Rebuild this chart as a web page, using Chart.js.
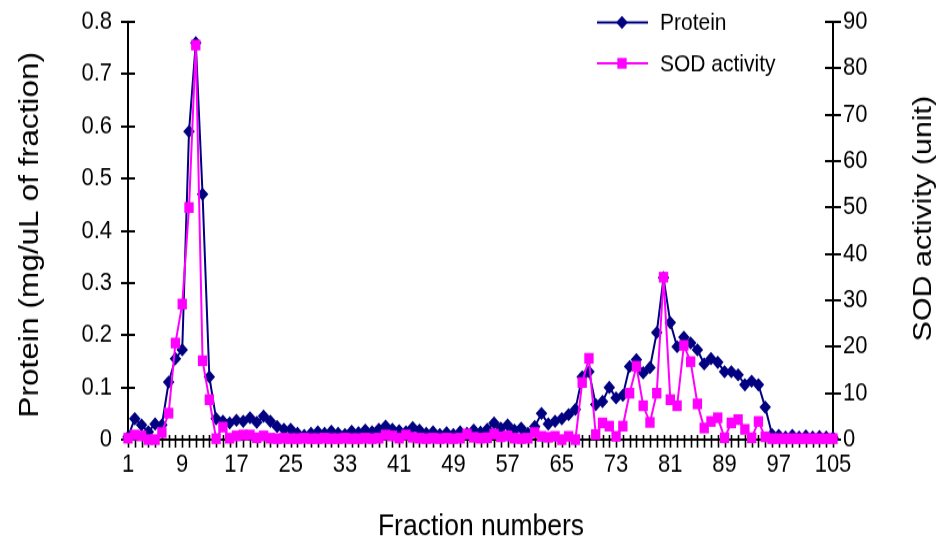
<!DOCTYPE html>
<html>
<head>
<meta charset="utf-8">
<script src="https://cdn.jsdelivr.net/npm/chart.js@4/dist/chart.umd.min.js"></script>
<style>
  html { margin: 0; padding: 0; background: #fff; overflow: hidden; }
  body { margin: 0; padding: 0; background: #fff; width: 946px; height: 542px; }
  /* chart is drawn on a shorter canvas and stretched vertically */
  #wrap { width: 946px; height: 471px; transform: scale(1, 1.15074); transform-origin: 0 0; }
  canvas { display: block; }
</style>
</head>
<body>
<div id="wrap"><canvas id="c" width="946" height="471"></canvas></div>
<script>
// Fraction numbers 1..105
const fractions = Array.from({ length: 105 }, (_, i) => i + 1);
const labelledFractions = [1, 9, 17, 25, 33, 41, 49, 57, 65, 73, 81, 89, 97, 105];

// Protein concentration (mg/uL of fraction)
const protein = [
  0.005, 0.040, 0.028, 0.015, 0.030, 0.028, 0.110, 0.155, 0.172, 0.590,
  0.760, 0.470, 0.120, 0.040, 0.035, 0.032, 0.037, 0.035, 0.042, 0.033,
  0.045, 0.035, 0.025, 0.020, 0.020, 0.012, 0.008, 0.012, 0.015, 0.012,
  0.016, 0.012, 0.010, 0.016, 0.013, 0.018, 0.015, 0.020, 0.026, 0.020,
  0.017, 0.015, 0.023, 0.018, 0.012, 0.015, 0.010, 0.013, 0.010, 0.015,
  0.012, 0.018, 0.014, 0.020, 0.032, 0.022, 0.028, 0.018, 0.022, 0.012,
  0.025, 0.050, 0.030, 0.035, 0.040, 0.048, 0.058, 0.120, 0.130, 0.067,
  0.073, 0.100, 0.080, 0.085, 0.140, 0.153, 0.128, 0.138, 0.205, 0.310,
  0.224, 0.178, 0.196, 0.185, 0.172, 0.145, 0.155, 0.148, 0.130, 0.130,
  0.124, 0.105, 0.112, 0.105, 0.062, 0.010, 0.008, 0.005, 0.008, 0.005,
  0.007, 0.005, 0.006, 0.005, 0.004
];

// SOD activity (unit)
const sodActivity = [
  0.3, 1.0, 0.8, 0.0, 0.0, 1.5, 5.7, 20.8, 29.2, 50.0,
  85.0, 17.0, 8.6, 0.2, 2.7, 0.3, 0.8, 1.0, 1.0, 0.4,
  0.8, 0.3, 0.2, 0.3, 0.2, 0.2, 0.3, 0.2, 0.2, 0.3,
  0.2, 0.2, 0.3, 0.2, 0.2, 0.3, 0.2, 0.3, 1.0, 0.8,
  0.3, 1.0, 0.5, 0.3, 0.2, 0.3, 0.2, 0.3, 0.2, 0.3,
  1.2, 0.5, 0.3, 0.4, 1.2, 0.6, 0.8, 0.3, 0.2, 0.3,
  1.5, 0.7, 0.5, 0.7, 0.0, 0.7, 0.0, 12.3, 17.5, 1.1,
  3.6, 2.9, 0.7, 2.9, 10.0, 15.8, 7.3, 3.7, 10.0, 35.0,
  8.6, 7.3, 20.3, 16.8, 7.7, 2.5, 3.9, 4.7, 0.4, 3.6,
  4.3, 2.2, 0.4, 3.9, 0.6, 0.2, 0.2, 0.2, 0.2, 0.2,
  0.2, 0.2, 0.2, 0.2, 0.2
];

const proteinAxis = { min: 0, max: 0.8, step: 0.1 };
const sodAxis = { min: 0, max: 90, step: 10 };

const FONT = '"Liberation Sans", Arial, sans-serif';
const NAVY = '#000080';
const MAGENTA = '#FF00FF';

// crossing tick marks on all three axes
const tickMarks = {
  id: 'tickMarks',
  beforeDatasetsDraw(chart) {
    const { ctx, scales } = chart;
    const x = scales.x, yl = scales.y, yr = scales.y1;
    ctx.save();
    ctx.strokeStyle = '#000';
    ctx.lineWidth = 1.6;
    ctx.beginPath();
    for (let i = 0; i < fractions.length; i++) {
      const px = Math.round(x.getPixelForTick(i)) + 0.5;
      ctx.moveTo(px, x.top - 4);
      ctx.lineTo(px, x.top + 7);
    }
    ctx.stroke();
    ctx.lineWidth = 2;
    ctx.beginPath();
    yl.ticks.forEach((t, i) => {
      const py = Math.round(yl.getPixelForTick(i));
      ctx.moveTo(yl.right - 7, py);
      ctx.lineTo(yl.right + 7, py);
    });
    yr.ticks.forEach((t, i) => {
      const py = Math.round(yr.getPixelForTick(i));
      ctx.moveTo(yr.left - 8, py);
      ctx.lineTo(yr.left + 8, py);
    });
    ctx.stroke();
    ctx.restore();
  }
};

// axis titles and the in-plot legend
const annotations = {
  id: 'annotations',
  afterDraw(chart) {
    const { ctx, chartArea, data } = chart;
    ctx.save();
    ctx.fillStyle = '#000';
    ctx.textBaseline = 'middle';
    ctx.textAlign = 'center';
    ctx.font = `26.5px ${FONT}`;
    ctx.fillText('Fraction numbers', 481, 458);

    ctx.save();
    ctx.font = `27.5px ${FONT}`;
    ctx.translate(30, 204);
    ctx.rotate(-Math.PI / 2);
    ctx.fillText('Protein (mg/uL of fraction)', 0, 0);
    ctx.restore();

    ctx.save();
    ctx.font = `26.5px ${FONT}`;
    ctx.translate(924, 190);
    ctx.rotate(-Math.PI / 2);
    ctx.fillText('SOD activity (unit)', 0, 0);
    ctx.restore();

    // legend
    const rows = [19.5, 55];
    data.datasets.forEach((ds, i) => {
      const y = rows[i];
      ctx.strokeStyle = ds.borderColor;
      ctx.lineWidth = 2;
      ctx.beginPath();
      ctx.moveTo(597, y);
      ctx.lineTo(648, y);
      ctx.stroke();
      ctx.fillStyle = ds.pointBackgroundColor;
      Chart.helpers.drawPoint(ctx, {
        pointStyle: ds.pointStyle, radius: ds.pointRadius, borderWidth: 0
      }, 622, y);
      ctx.fillStyle = '#000';
      ctx.textAlign = 'left';
      ctx.font = `21px ${FONT}`;
      ctx.fillText(ds.label, 660, y + 1);
    });
    ctx.restore();
  }
};

new Chart(document.getElementById('c'), {
  type: 'line',
  data: {
    labels: fractions,
    datasets: [
      {
        label: 'Protein',
        data: protein,
        yAxisID: 'y',
        borderColor: NAVY,
        backgroundColor: NAVY,
        pointBackgroundColor: NAVY,
        pointBorderColor: NAVY,
        pointBorderWidth: 0,
        pointStyle: 'rectRot',
        pointRadius: 5.8,
        borderWidth: 2,
        tension: 0,
        clip: false,
        order: 1
      },
      {
        label: 'SOD activity',
        data: sodActivity,
        yAxisID: 'y1',
        borderColor: MAGENTA,
        backgroundColor: MAGENTA,
        pointBackgroundColor: MAGENTA,
        pointBorderColor: MAGENTA,
        pointBorderWidth: 0,
        pointStyle: 'rect',
        pointRadius: 6.6,
        borderWidth: 2,
        tension: 0,
        clip: false,
        order: 0
      }
    ]
  },
  options: {
    responsive: false,
    animation: false,
    devicePixelRatio: 1,
    layout: { padding: { top: 19, left: 0, right: 0, bottom: 0 } },
    plugins: { legend: { display: false }, tooltip: { enabled: false } },
    scales: {
      x: {
        type: 'category',
        offset: false,
        grid: { display: false, drawTicks: false },
        border: { display: true, color: '#000', width: 2 },
        ticks: {
          autoSkip: false, maxRotation: 0, minRotation: 0, padding: 9,
          color: '#000', font: { family: FONT, size: 22 },
          callback: (v, i) => labelledFractions.includes(fractions[i]) ? String(fractions[i]) : ''
        },
        afterFit(s) { s.height = 89; s.paddingLeft = 0; s.paddingRight = 0; }
      },
      y: {
        position: 'left',
        min: proteinAxis.min, max: proteinAxis.max,
        grid: { display: false, drawTicks: false },
        border: { display: true, color: '#000', width: 2 },
        ticks: {
          stepSize: proteinAxis.step, padding: 16,
          color: '#000', font: { family: FONT, size: 22 },
          callback: v => String(+v.toFixed(1))
        },
        afterFit(s) { s.width = 128; s.paddingTop = 0; s.paddingBottom = 0; }
      },
      y1: {
        position: 'right',
        min: sodAxis.min, max: sodAxis.max,
        grid: { display: false, drawTicks: false },
        border: { display: true, color: '#000', width: 2 },
        ticks: {
          stepSize: sodAxis.step, padding: 10,
          color: '#000', font: { family: FONT, size: 22 },
          callback: v => String(Math.round(v))
        },
        afterFit(s) { s.width = 113; s.paddingTop = 0; s.paddingBottom = 0; }
      }
    }
  },
  plugins: [tickMarks, annotations]
});
</script>
</body>
</html>
